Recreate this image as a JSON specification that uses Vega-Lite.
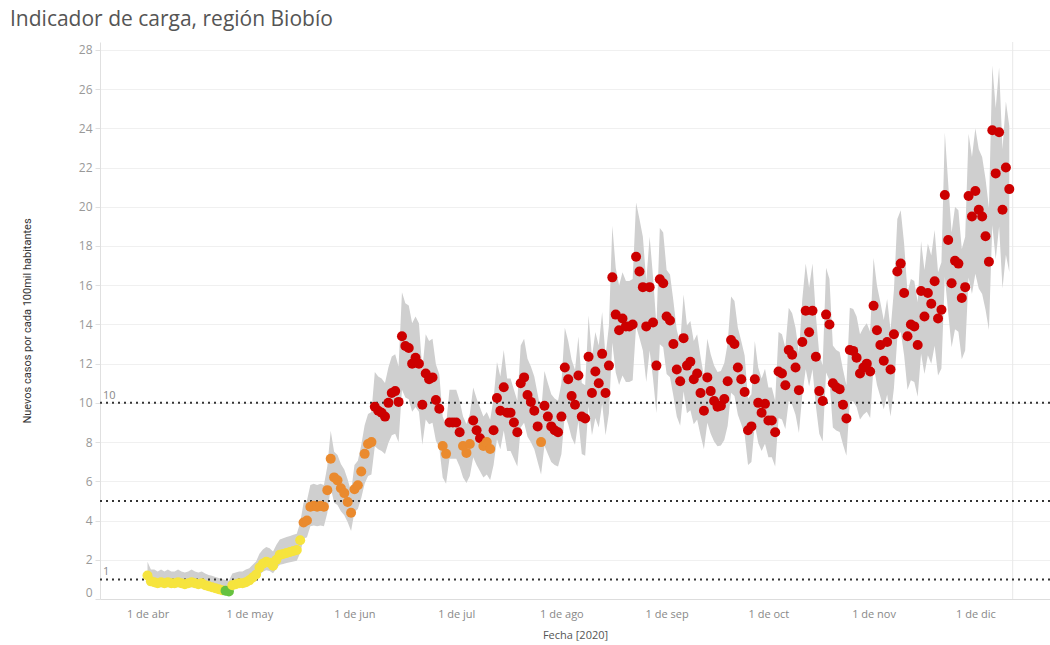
{
  "$schema": "https://vega.github.io/schema/vega-lite/v6.json",
  "width": 950,
  "height": 557,
  "autosize": {"type": "none"},
  "padding": {"left": 100, "top": 42, "right": 0, "bottom": 46},
  "background": "white",
  "title": {"text": "Indicador de carga, región Biobío", "anchor": "start", "frame": "group", "dx": -90, "offset": 12, "fontSize": 21, "font": "Open Sans", "fontWeight": "normal", "color": "#555555"},
  "config": {
    "view": {"stroke": null},
    "font": "Open Sans",
    "axisX": {"grid": false, "ticks": false, "domainColor": "#dddddd", "labelColor": "#888888", "labelFontSize": 11, "labelPadding": 9, "labelFont": "Open Sans", "labelOverlap": false, "titleFontSize": 11, "titleColor": "#555555", "titleFontWeight": "normal", "titlePadding": 10, "titleFont": "Open Sans"},
    "axisY": {"grid": true, "gridColor": "#f0f0f0", "domainColor": "#e0e0e0", "tickColor": "#e0e0e0", "tickSize": 5, "labelColor": "#999999", "labelFontSize": 12, "labelPadding": 3, "labelFlush": true, "labelOverlap": false, "labelFont": "Open Sans", "titleFontSize": 11, "titleColor": "#333333", "titleFontWeight": "normal", "titleFont": "Roboto", "titlePadding": 46}
  },
  "datasets": {
    "s": [
      {"d":"2020-04-01","v":1.2,"lo":0.9,"hi":1.9,"c":"y"},
      {"d":"2020-04-02","v":0.9,"lo":0.7,"hi":1.5,"c":"y"},
      {"d":"2020-04-03","v":0.85,"lo":0.6,"hi":1.5,"c":"y"},
      {"d":"2020-04-04","v":0.8,"lo":0.6,"hi":1.4,"c":"y"},
      {"d":"2020-04-05","v":0.85,"lo":0.6,"hi":1.5,"c":"y"},
      {"d":"2020-04-06","v":0.8,"lo":0.6,"hi":1.4,"c":"y"},
      {"d":"2020-04-07","v":0.85,"lo":0.6,"hi":1.5,"c":"y"},
      {"d":"2020-04-08","v":0.8,"lo":0.6,"hi":1.4,"c":"y"},
      {"d":"2020-04-09","v":0.8,"lo":0.6,"hi":1.4,"c":"y"},
      {"d":"2020-04-10","v":0.85,"lo":0.6,"hi":1.5,"c":"y"},
      {"d":"2020-04-11","v":0.8,"lo":0.6,"hi":1.4,"c":"y"},
      {"d":"2020-04-12","v":0.75,"lo":0.55,"hi":1.35,"c":"y"},
      {"d":"2020-04-13","v":0.8,"lo":0.6,"hi":1.4,"c":"y"},
      {"d":"2020-04-14","v":0.85,"lo":0.6,"hi":1.5,"c":"y"},
      {"d":"2020-04-15","v":0.8,"lo":0.6,"hi":1.4,"c":"y"},
      {"d":"2020-04-16","v":0.75,"lo":0.55,"hi":1.35,"c":"y"},
      {"d":"2020-04-17","v":0.8,"lo":0.6,"hi":1.4,"c":"y"},
      {"d":"2020-04-18","v":0.7,"lo":0.5,"hi":1.3,"c":"y"},
      {"d":"2020-04-19","v":0.65,"lo":0.47,"hi":1.23,"c":"y"},
      {"d":"2020-04-20","v":0.6,"lo":0.43,"hi":1.18,"c":"y"},
      {"d":"2020-04-21","v":0.55,"lo":0.39,"hi":1.12,"c":"y"},
      {"d":"2020-04-22","v":0.5,"lo":0.35,"hi":1.07,"c":"y"},
      {"d":"2020-04-23","v":0.45,"lo":0.31,"hi":1.01,"c":"y"},
      {"d":"2020-04-24","v":0.42,"lo":0.29,"hi":0.97,"c":"g"},
      {"d":"2020-04-25","v":0.38,"lo":0.25,"hi":0.93,"c":"g"},
      {"d":"2020-04-26","v":0.7,"lo":0.5,"hi":1.3,"c":"y"},
      {"d":"2020-04-27","v":0.75,"lo":0.55,"hi":1.35,"c":"y"},
      {"d":"2020-04-28","v":0.8,"lo":0.6,"hi":1.4,"c":"y"},
      {"d":"2020-04-29","v":0.8,"lo":0.6,"hi":1.4,"c":"y"},
      {"d":"2020-04-30","v":0.85,"lo":0.6,"hi":1.5,"c":"y"},
      {"d":"2020-05-01","v":0.95,"lo":0.71,"hi":1.57,"c":"y"},
      {"d":"2020-05-02","v":1.1,"lo":0.83,"hi":1.74,"c":"y"},
      {"d":"2020-05-03","v":1.25,"lo":0.95,"hi":1.91,"c":"y"},
      {"d":"2020-05-04","v":1.6,"lo":1.23,"hi":2.31,"c":"y"},
      {"d":"2020-05-05","v":1.8,"lo":1.39,"hi":2.53,"c":"y"},
      {"d":"2020-05-06","v":1.9,"lo":1.47,"hi":2.65,"c":"y"},
      {"d":"2020-05-07","v":1.85,"lo":1.43,"hi":2.59,"c":"y"},
      {"d":"2020-05-08","v":1.7,"lo":1.31,"hi":2.42,"c":"y"},
      {"d":"2020-05-09","v":2.0,"lo":1.55,"hi":2.76,"c":"y"},
      {"d":"2020-05-10","v":2.25,"lo":1.75,"hi":3.04,"c":"y"},
      {"d":"2020-05-11","v":2.3,"lo":1.79,"hi":3.1,"c":"y"},
      {"d":"2020-05-12","v":2.35,"lo":1.83,"hi":3.16,"c":"y"},
      {"d":"2020-05-13","v":2.4,"lo":1.87,"hi":3.21,"c":"y"},
      {"d":"2020-05-14","v":2.45,"lo":1.91,"hi":3.27,"c":"y"},
      {"d":"2020-05-15","v":2.5,"lo":1.95,"hi":3.33,"c":"y"},
      {"d":"2020-05-16","v":3.0,"lo":2.35,"hi":3.89,"c":"y"},
      {"d":"2020-05-17","v":3.9,"lo":3.07,"hi":4.91,"c":"o"},
      {"d":"2020-05-18","v":4.0,"lo":3.15,"hi":5.02,"c":"o"},
      {"d":"2020-05-19","v":4.7,"lo":3.71,"hi":5.81,"c":"o"},
      {"d":"2020-05-20","v":4.75,"lo":3.75,"hi":5.87,"c":"o"},
      {"d":"2020-05-21","v":4.7,"lo":3.71,"hi":5.81,"c":"o"},
      {"d":"2020-05-22","v":4.75,"lo":3.75,"hi":5.87,"c":"o"},
      {"d":"2020-05-23","v":4.7,"lo":3.71,"hi":5.81,"c":"o"},
      {"d":"2020-05-24","v":5.55,"lo":4.39,"hi":6.77,"c":"o"},
      {"d":"2020-05-25","v":7.15,"lo":5.67,"hi":8.58,"c":"o"},
      {"d":"2020-05-26","v":6.2,"lo":4.91,"hi":7.51,"c":"o"},
      {"d":"2020-05-27","v":6.05,"lo":4.79,"hi":7.34,"c":"o"},
      {"d":"2020-05-28","v":5.65,"lo":4.47,"hi":6.88,"c":"o"},
      {"d":"2020-05-29","v":5.4,"lo":4.27,"hi":6.6,"c":"o"},
      {"d":"2020-05-30","v":4.95,"lo":3.91,"hi":6.09,"c":"o"},
      {"d":"2020-05-31","v":4.4,"lo":3.47,"hi":5.47,"c":"o"},
      {"d":"2020-06-01","v":5.6,"lo":4.43,"hi":6.83,"c":"o"},
      {"d":"2020-06-02","v":5.8,"lo":4.59,"hi":7.05,"c":"o"},
      {"d":"2020-06-03","v":6.5,"lo":5.15,"hi":7.85,"c":"o"},
      {"d":"2020-06-04","v":7.4,"lo":5.87,"hi":8.86,"c":"o"},
      {"d":"2020-06-05","v":7.9,"lo":6.27,"hi":9.43,"c":"o"},
      {"d":"2020-06-06","v":8.0,"lo":6.35,"hi":9.54,"c":"o"},
      {"d":"2020-06-07","v":9.8,"lo":7.79,"hi":11.57,"c":"r"},
      {"d":"2020-06-08","v":9.6,"lo":7.63,"hi":11.35,"c":"r"},
      {"d":"2020-06-09","v":9.5,"lo":7.55,"hi":11.24,"c":"r"},
      {"d":"2020-06-10","v":9.3,"lo":7.39,"hi":11.01,"c":"r"},
      {"d":"2020-06-11","v":10.0,"lo":7.95,"hi":11.8,"c":"r"},
      {"d":"2020-06-12","v":10.5,"lo":8.35,"hi":12.37,"c":"r"},
      {"d":"2020-06-13","v":10.6,"lo":8.43,"hi":12.48,"c":"r"},
      {"d":"2020-06-14","v":10.05,"lo":7.99,"hi":11.86,"c":"r"},
      {"d":"2020-06-15","v":13.4,"lo":10.67,"hi":15.64,"c":"r"},
      {"d":"2020-06-16","v":12.9,"lo":10.27,"hi":15.08,"c":"r"},
      {"d":"2020-06-17","v":12.8,"lo":10.19,"hi":14.96,"c":"r"},
      {"d":"2020-06-18","v":12.0,"lo":9.55,"hi":14.06,"c":"r"},
      {"d":"2020-06-19","v":12.3,"lo":9.79,"hi":14.4,"c":"r"},
      {"d":"2020-06-20","v":12.0,"lo":9.55,"hi":14.06,"c":"r"},
      {"d":"2020-06-21","v":9.9,"lo":7.87,"hi":11.69,"c":"r"},
      {"d":"2020-06-22","v":11.5,"lo":9.15,"hi":13.5,"c":"r"},
      {"d":"2020-06-23","v":11.2,"lo":8.91,"hi":13.16,"c":"r"},
      {"d":"2020-06-24","v":11.3,"lo":8.99,"hi":13.27,"c":"r"},
      {"d":"2020-06-25","v":10.15,"lo":8.07,"hi":11.97,"c":"r"},
      {"d":"2020-06-26","v":9.7,"lo":7.71,"hi":11.46,"c":"r"},
      {"d":"2020-06-27","v":7.8,"lo":6.19,"hi":9.31,"c":"o"},
      {"d":"2020-06-28","v":7.4,"lo":5.87,"hi":8.86,"c":"o"},
      {"d":"2020-06-29","v":9.0,"lo":7.15,"hi":10.67,"c":"r"},
      {"d":"2020-06-30","v":9.0,"lo":7.15,"hi":10.67,"c":"r"},
      {"d":"2020-07-01","v":9.0,"lo":7.15,"hi":10.67,"c":"r"},
      {"d":"2020-07-02","v":8.5,"lo":6.75,"hi":10.11,"c":"r"},
      {"d":"2020-07-03","v":7.8,"lo":6.19,"hi":9.31,"c":"o"},
      {"d":"2020-07-04","v":7.45,"lo":5.91,"hi":8.92,"c":"o"},
      {"d":"2020-07-05","v":7.9,"lo":6.27,"hi":9.43,"c":"o"},
      {"d":"2020-07-06","v":9.1,"lo":7.23,"hi":10.78,"c":"r"},
      {"d":"2020-07-07","v":8.6,"lo":6.83,"hi":10.22,"c":"r"},
      {"d":"2020-07-08","v":8.2,"lo":6.51,"hi":9.77,"c":"r"},
      {"d":"2020-07-09","v":7.8,"lo":6.19,"hi":9.31,"c":"o"},
      {"d":"2020-07-10","v":8.0,"lo":6.35,"hi":9.54,"c":"o"},
      {"d":"2020-07-11","v":7.65,"lo":6.07,"hi":9.14,"c":"o"},
      {"d":"2020-07-12","v":8.6,"lo":6.83,"hi":10.22,"c":"r"},
      {"d":"2020-07-13","v":10.25,"lo":8.15,"hi":12.08,"c":"r"},
      {"d":"2020-07-14","v":9.6,"lo":7.63,"hi":11.35,"c":"r"},
      {"d":"2020-07-15","v":10.8,"lo":8.59,"hi":12.7,"c":"r"},
      {"d":"2020-07-16","v":9.5,"lo":7.55,"hi":11.24,"c":"r"},
      {"d":"2020-07-17","v":9.5,"lo":7.55,"hi":11.24,"c":"r"},
      {"d":"2020-07-18","v":9.0,"lo":7.15,"hi":10.67,"c":"r"},
      {"d":"2020-07-19","v":8.5,"lo":6.75,"hi":10.11,"c":"r"},
      {"d":"2020-07-20","v":11.0,"lo":8.75,"hi":12.93,"c":"r"},
      {"d":"2020-07-21","v":11.3,"lo":8.99,"hi":13.27,"c":"r"},
      {"d":"2020-07-22","v":10.4,"lo":8.27,"hi":12.25,"c":"r"},
      {"d":"2020-07-23","v":10.05,"lo":7.99,"hi":11.86,"c":"r"},
      {"d":"2020-07-24","v":9.6,"lo":7.63,"hi":11.35,"c":"r"},
      {"d":"2020-07-25","v":8.8,"lo":6.99,"hi":10.44,"c":"r"},
      {"d":"2020-07-26","v":8.0,"lo":6.35,"hi":9.54,"c":"o"},
      {"d":"2020-07-27","v":9.85,"lo":7.83,"hi":11.63,"c":"r"},
      {"d":"2020-07-28","v":9.3,"lo":7.39,"hi":11.01,"c":"r"},
      {"d":"2020-07-29","v":8.8,"lo":6.99,"hi":10.44,"c":"r"},
      {"d":"2020-07-30","v":8.6,"lo":6.83,"hi":10.22,"c":"r"},
      {"d":"2020-07-31","v":8.5,"lo":6.75,"hi":10.11,"c":"r"},
      {"d":"2020-08-01","v":9.3,"lo":7.39,"hi":11.01,"c":"r"},
      {"d":"2020-08-02","v":11.8,"lo":9.39,"hi":13.83,"c":"r"},
      {"d":"2020-08-03","v":11.2,"lo":8.91,"hi":13.16,"c":"r"},
      {"d":"2020-08-04","v":10.35,"lo":8.23,"hi":12.2,"c":"r"},
      {"d":"2020-08-05","v":9.9,"lo":7.87,"hi":11.69,"c":"r"},
      {"d":"2020-08-06","v":11.4,"lo":9.07,"hi":13.38,"c":"r"},
      {"d":"2020-08-07","v":9.3,"lo":7.39,"hi":11.01,"c":"r"},
      {"d":"2020-08-08","v":9.2,"lo":7.31,"hi":10.9,"c":"r"},
      {"d":"2020-08-09","v":12.35,"lo":9.83,"hi":14.46,"c":"r"},
      {"d":"2020-08-10","v":10.5,"lo":8.35,"hi":12.37,"c":"r"},
      {"d":"2020-08-11","v":11.6,"lo":9.23,"hi":13.61,"c":"r"},
      {"d":"2020-08-12","v":11.0,"lo":8.75,"hi":12.93,"c":"r"},
      {"d":"2020-08-13","v":12.5,"lo":9.95,"hi":14.63,"c":"r"},
      {"d":"2020-08-14","v":10.5,"lo":8.35,"hi":12.37,"c":"r"},
      {"d":"2020-08-15","v":11.9,"lo":9.47,"hi":13.95,"c":"r"},
      {"d":"2020-08-16","v":16.4,"lo":13.07,"hi":19.03,"c":"r"},
      {"d":"2020-08-17","v":14.5,"lo":11.55,"hi":16.89,"c":"r"},
      {"d":"2020-08-18","v":13.7,"lo":10.91,"hi":15.98,"c":"r"},
      {"d":"2020-08-19","v":14.3,"lo":11.39,"hi":16.66,"c":"r"},
      {"d":"2020-08-20","v":13.9,"lo":11.07,"hi":16.21,"c":"r"},
      {"d":"2020-08-21","v":13.9,"lo":11.07,"hi":16.21,"c":"r"},
      {"d":"2020-08-22","v":14.0,"lo":11.15,"hi":16.32,"c":"r"},
      {"d":"2020-08-23","v":17.45,"lo":13.91,"hi":20.22,"c":"r"},
      {"d":"2020-08-24","v":16.7,"lo":13.31,"hi":19.37,"c":"r"},
      {"d":"2020-08-25","v":15.9,"lo":12.67,"hi":18.47,"c":"r"},
      {"d":"2020-08-26","v":13.9,"lo":11.07,"hi":16.21,"c":"r"},
      {"d":"2020-08-27","v":15.9,"lo":12.67,"hi":18.47,"c":"r"},
      {"d":"2020-08-28","v":14.1,"lo":11.23,"hi":16.43,"c":"r"},
      {"d":"2020-08-29","v":11.9,"lo":9.47,"hi":13.95,"c":"r"},
      {"d":"2020-08-30","v":16.3,"lo":12.99,"hi":18.92,"c":"r"},
      {"d":"2020-08-31","v":16.1,"lo":12.83,"hi":18.69,"c":"r"},
      {"d":"2020-09-01","v":14.4,"lo":11.47,"hi":16.77,"c":"r"},
      {"d":"2020-09-02","v":14.2,"lo":11.31,"hi":16.55,"c":"r"},
      {"d":"2020-09-03","v":13.0,"lo":10.35,"hi":15.19,"c":"r"},
      {"d":"2020-09-04","v":11.7,"lo":9.31,"hi":13.72,"c":"r"},
      {"d":"2020-09-05","v":11.1,"lo":8.83,"hi":13.04,"c":"r"},
      {"d":"2020-09-06","v":13.3,"lo":10.59,"hi":15.53,"c":"r"},
      {"d":"2020-09-07","v":11.9,"lo":9.47,"hi":13.95,"c":"r"},
      {"d":"2020-09-08","v":12.1,"lo":9.63,"hi":14.17,"c":"r"},
      {"d":"2020-09-09","v":11.2,"lo":8.91,"hi":13.16,"c":"r"},
      {"d":"2020-09-10","v":11.5,"lo":9.15,"hi":13.5,"c":"r"},
      {"d":"2020-09-11","v":10.5,"lo":8.35,"hi":12.37,"c":"r"},
      {"d":"2020-09-12","v":9.6,"lo":7.63,"hi":11.35,"c":"r"},
      {"d":"2020-09-13","v":11.3,"lo":8.99,"hi":13.27,"c":"r"},
      {"d":"2020-09-14","v":10.6,"lo":8.43,"hi":12.48,"c":"r"},
      {"d":"2020-09-15","v":10.1,"lo":8.03,"hi":11.91,"c":"r"},
      {"d":"2020-09-16","v":9.8,"lo":7.79,"hi":11.57,"c":"r"},
      {"d":"2020-09-17","v":9.85,"lo":7.83,"hi":11.63,"c":"r"},
      {"d":"2020-09-18","v":10.2,"lo":8.11,"hi":12.03,"c":"r"},
      {"d":"2020-09-19","v":11.1,"lo":8.83,"hi":13.04,"c":"r"},
      {"d":"2020-09-20","v":13.2,"lo":10.51,"hi":15.42,"c":"r"},
      {"d":"2020-09-21","v":13.0,"lo":10.35,"hi":15.19,"c":"r"},
      {"d":"2020-09-22","v":11.8,"lo":9.39,"hi":13.83,"c":"r"},
      {"d":"2020-09-23","v":11.2,"lo":8.91,"hi":13.16,"c":"r"},
      {"d":"2020-09-24","v":10.55,"lo":8.39,"hi":12.42,"c":"r"},
      {"d":"2020-09-25","v":8.6,"lo":6.83,"hi":10.22,"c":"r"},
      {"d":"2020-09-26","v":8.8,"lo":6.99,"hi":10.44,"c":"r"},
      {"d":"2020-09-27","v":11.2,"lo":8.91,"hi":13.16,"c":"r"},
      {"d":"2020-09-28","v":10.0,"lo":7.95,"hi":11.8,"c":"r"},
      {"d":"2020-09-29","v":9.5,"lo":7.55,"hi":11.24,"c":"r"},
      {"d":"2020-09-30","v":9.95,"lo":7.91,"hi":11.74,"c":"r"},
      {"d":"2020-10-01","v":9.1,"lo":7.23,"hi":10.78,"c":"r"},
      {"d":"2020-10-02","v":9.1,"lo":7.23,"hi":10.78,"c":"r"},
      {"d":"2020-10-03","v":8.5,"lo":6.75,"hi":10.11,"c":"r"},
      {"d":"2020-10-04","v":11.6,"lo":9.23,"hi":13.61,"c":"r"},
      {"d":"2020-10-05","v":11.5,"lo":9.15,"hi":13.5,"c":"r"},
      {"d":"2020-10-06","v":10.9,"lo":8.67,"hi":12.82,"c":"r"},
      {"d":"2020-10-07","v":12.7,"lo":10.11,"hi":14.85,"c":"r"},
      {"d":"2020-10-08","v":12.45,"lo":9.91,"hi":14.57,"c":"r"},
      {"d":"2020-10-09","v":11.8,"lo":9.39,"hi":13.83,"c":"r"},
      {"d":"2020-10-10","v":10.65,"lo":8.47,"hi":12.53,"c":"r"},
      {"d":"2020-10-11","v":13.1,"lo":10.43,"hi":15.3,"c":"r"},
      {"d":"2020-10-12","v":14.7,"lo":11.71,"hi":17.11,"c":"r"},
      {"d":"2020-10-13","v":13.6,"lo":10.83,"hi":15.87,"c":"r"},
      {"d":"2020-10-14","v":14.7,"lo":11.71,"hi":17.11,"c":"r"},
      {"d":"2020-10-15","v":12.35,"lo":9.83,"hi":14.46,"c":"r"},
      {"d":"2020-10-16","v":10.6,"lo":8.43,"hi":12.48,"c":"r"},
      {"d":"2020-10-17","v":10.1,"lo":8.03,"hi":11.91,"c":"r"},
      {"d":"2020-10-18","v":14.5,"lo":11.55,"hi":16.89,"c":"r"},
      {"d":"2020-10-19","v":14.0,"lo":11.15,"hi":16.32,"c":"r"},
      {"d":"2020-10-20","v":11.0,"lo":8.75,"hi":12.93,"c":"r"},
      {"d":"2020-10-21","v":10.8,"lo":8.59,"hi":12.7,"c":"r"},
      {"d":"2020-10-22","v":10.7,"lo":8.51,"hi":12.59,"c":"r"},
      {"d":"2020-10-23","v":9.9,"lo":7.87,"hi":11.69,"c":"r"},
      {"d":"2020-10-24","v":9.2,"lo":7.31,"hi":10.9,"c":"r"},
      {"d":"2020-10-25","v":12.7,"lo":10.11,"hi":14.85,"c":"r"},
      {"d":"2020-10-26","v":12.65,"lo":10.07,"hi":14.79,"c":"r"},
      {"d":"2020-10-27","v":12.3,"lo":9.79,"hi":14.4,"c":"r"},
      {"d":"2020-10-28","v":11.5,"lo":9.15,"hi":13.5,"c":"r"},
      {"d":"2020-10-29","v":11.8,"lo":9.39,"hi":13.83,"c":"r"},
      {"d":"2020-10-30","v":12.0,"lo":9.55,"hi":14.06,"c":"r"},
      {"d":"2020-10-31","v":11.6,"lo":9.23,"hi":13.61,"c":"r"},
      {"d":"2020-11-01","v":14.95,"lo":11.91,"hi":17.39,"c":"r"},
      {"d":"2020-11-02","v":13.7,"lo":10.91,"hi":15.98,"c":"r"},
      {"d":"2020-11-03","v":12.95,"lo":10.31,"hi":15.13,"c":"r"},
      {"d":"2020-11-04","v":12.15,"lo":9.67,"hi":14.23,"c":"r"},
      {"d":"2020-11-05","v":13.1,"lo":10.43,"hi":15.3,"c":"r"},
      {"d":"2020-11-06","v":11.7,"lo":9.31,"hi":13.72,"c":"r"},
      {"d":"2020-11-07","v":13.5,"lo":10.75,"hi":15.76,"c":"r"},
      {"d":"2020-11-08","v":16.7,"lo":13.31,"hi":19.37,"c":"r"},
      {"d":"2020-11-09","v":17.1,"lo":13.63,"hi":19.82,"c":"r"},
      {"d":"2020-11-10","v":15.6,"lo":12.43,"hi":18.13,"c":"r"},
      {"d":"2020-11-11","v":13.4,"lo":10.67,"hi":15.64,"c":"r"},
      {"d":"2020-11-12","v":14.0,"lo":11.15,"hi":16.32,"c":"r"},
      {"d":"2020-11-13","v":13.9,"lo":11.07,"hi":16.21,"c":"r"},
      {"d":"2020-11-14","v":12.95,"lo":10.31,"hi":15.13,"c":"r"},
      {"d":"2020-11-15","v":15.7,"lo":12.51,"hi":18.24,"c":"r"},
      {"d":"2020-11-16","v":14.4,"lo":11.47,"hi":16.77,"c":"r"},
      {"d":"2020-11-17","v":15.6,"lo":12.43,"hi":18.13,"c":"r"},
      {"d":"2020-11-18","v":15.05,"lo":11.99,"hi":17.51,"c":"r"},
      {"d":"2020-11-19","v":16.2,"lo":12.91,"hi":18.81,"c":"r"},
      {"d":"2020-11-20","v":14.3,"lo":11.39,"hi":16.66,"c":"r"},
      {"d":"2020-11-21","v":14.75,"lo":11.75,"hi":17.17,"c":"r"},
      {"d":"2020-11-22","v":20.6,"lo":16.43,"hi":23.78,"c":"r"},
      {"d":"2020-11-23","v":18.3,"lo":14.59,"hi":21.18,"c":"r"},
      {"d":"2020-11-24","v":16.1,"lo":12.83,"hi":18.69,"c":"r"},
      {"d":"2020-11-25","v":17.25,"lo":13.75,"hi":19.99,"c":"r"},
      {"d":"2020-11-26","v":17.1,"lo":13.63,"hi":19.82,"c":"r"},
      {"d":"2020-11-27","v":15.35,"lo":12.23,"hi":17.85,"c":"r"},
      {"d":"2020-11-28","v":15.9,"lo":12.67,"hi":18.47,"c":"r"},
      {"d":"2020-11-29","v":20.55,"lo":16.39,"hi":23.72,"c":"r"},
      {"d":"2020-11-30","v":19.5,"lo":15.55,"hi":22.54,"c":"r"},
      {"d":"2020-12-01","v":20.8,"lo":16.59,"hi":24.0,"c":"r"},
      {"d":"2020-12-02","v":19.85,"lo":15.83,"hi":22.93,"c":"r"},
      {"d":"2020-12-03","v":19.5,"lo":15.55,"hi":22.54,"c":"r"},
      {"d":"2020-12-04","v":18.5,"lo":14.75,"hi":21.41,"c":"r"},
      {"d":"2020-12-05","v":17.2,"lo":13.71,"hi":19.94,"c":"r"},
      {"d":"2020-12-06","v":23.9,"lo":19.07,"hi":27.2,"c":"r"},
      {"d":"2020-12-07","v":21.7,"lo":17.31,"hi":25.02,"c":"r"},
      {"d":"2020-12-08","v":23.8,"lo":18.99,"hi":27.1,"c":"r"},
      {"d":"2020-12-09","v":19.85,"lo":15.83,"hi":22.93,"c":"r"},
      {"d":"2020-12-10","v":22.0,"lo":17.55,"hi":25.36,"c":"r"},
      {"d":"2020-12-11","v":20.9,"lo":16.67,"hi":24.12,"c":"r"}
    ]
  },
  "layer": [
    {
      "data": {"name": "s"},
      "mark": {"type": "area", "color": "#cfcfcf", "opacity": 1},
      "encoding": {
        "x": {
          "field": "d", "type": "temporal", "title": "Fecha [2020]",
          "scale": {"type": "utc", "domain": [{"year": 2020, "month": 3, "date": 18, "utc": true}, {"year": 2020, "month": 12, "date": 23, "utc": true}]},
          "axis": {
            "values": [
              {"year": 2020, "month": 4, "date": 1, "utc": true},
              {"year": 2020, "month": 5, "date": 1, "utc": true},
              {"year": 2020, "month": 6, "date": 1, "utc": true},
              {"year": 2020, "month": 7, "date": 1, "utc": true},
              {"year": 2020, "month": 8, "date": 1, "utc": true},
              {"year": 2020, "month": 9, "date": 1, "utc": true},
              {"year": 2020, "month": 10, "date": 1, "utc": true},
              {"year": 2020, "month": 11, "date": 1, "utc": true},
              {"year": 2020, "month": 12, "date": 1, "utc": true}
            ],
            "labelExpr": "'1 de ' + ['ene','feb','mar','abr','may','jun','jul','ago','sep','oct','nov','dic'][utcmonth(datum.value)]"
          }
        },
        "y": {
          "field": "lo", "type": "quantitative", "title": "Nuevos casos por cada 100mil habitantes",
          "scale": {"domain": [0, 28.4], "nice": false, "zero": false},
          "axis": {"values": [0, 2, 4, 6, 8, 10, 12, 14, 16, 18, 20, 22, 24, 26, 28]}
        },
        "y2": {"field": "hi"}
      }
    },
    {
      "data": {"values": [{"e": "2020-12-12"}]},
      "mark": {"type": "rule", "color": "#e8e8e8", "strokeWidth": 1},
      "encoding": {"x": {"field": "e", "type": "temporal", "title": "Fecha [2020]"}}
    },
    {
      "data": {"values": [{"t": 1}, {"t": 5}, {"t": 10}]},
      "mark": {"type": "rule", "color": "#333333", "strokeWidth": 2, "strokeDash": [2, 4]},
      "encoding": {"y": {"field": "t", "type": "quantitative", "title": "Nuevos casos por cada 100mil habitantes", "axis": {"values": [0, 2, 4, 6, 8, 10, 12, 14, 16, 18, 20, 22, 24, 26, 28]}}}
    },
    {
      "data": {"values": [{"t": 1, "lab": "1", "x0": "2020-03-18"}, {"t": 10, "lab": "10", "x0": "2020-03-18"}]},
      "mark": {"type": "text", "align": "left", "baseline": "bottom", "dx": 3, "dy": -2, "fontSize": 11, "color": "#888888", "font": "Open Sans"},
      "encoding": {
        "x": {"field": "x0", "type": "temporal", "title": "Fecha [2020]"},
        "y": {"field": "t", "type": "quantitative", "title": "Nuevos casos por cada 100mil habitantes", "axis": {"values": [0, 2, 4, 6, 8, 10, 12, 14, 16, 18, 20, 22, 24, 26, 28]}},
        "text": {"field": "lab"}
      }
    },
    {
      "data": {"name": "s"},
      "mark": {"type": "circle", "size": 100, "opacity": 1},
      "encoding": {
        "x": {"field": "d", "type": "temporal", "title": "Fecha [2020]"},
        "y": {"field": "v", "type": "quantitative", "title": "Nuevos casos por cada 100mil habitantes", "axis": {"values": [0, 2, 4, 6, 8, 10, 12, 14, 16, 18, 20, 22, 24, 26, 28]}},
        "color": {"field": "c", "type": "nominal", "scale": {"domain": ["g", "y", "o", "r"], "range": ["#66c23f", "#f6e43e", "#ea8a2e", "#cc0000"]}, "legend": null}
      }
    }
  ]
}
